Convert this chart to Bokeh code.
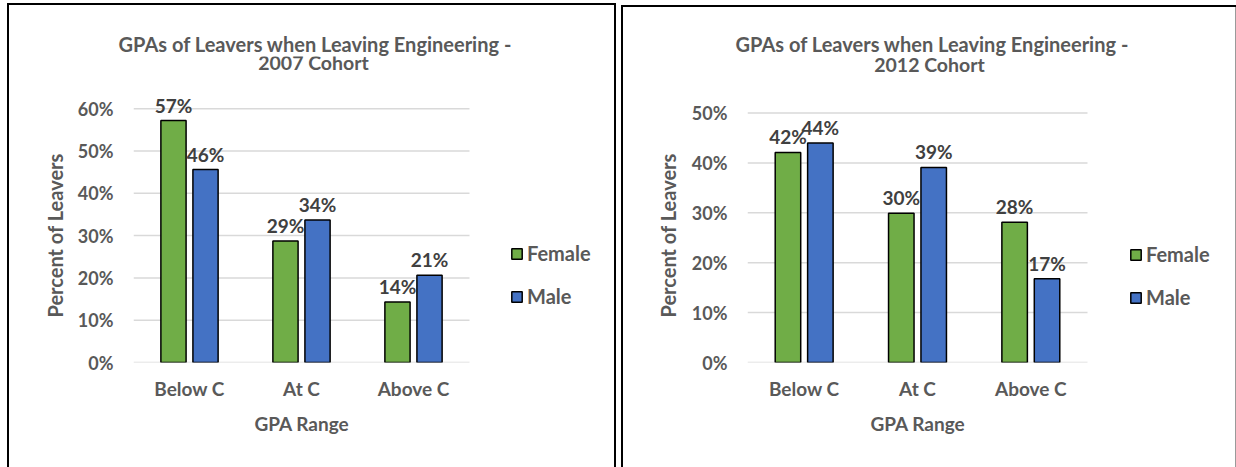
from bokeh.plotting import figure
from bokeh.models import (Range1d, FixedTicker, Legend, LegendItem, Label,
                          Title, ColumnDataSource, NumeralTickFormatter)
from bokeh.transform import dodge
from bokeh.layouts import row
from bokeh.embed import file_html
from bokeh.resources import INLINE
from bokeh.core.properties import value

categories = ["Below C", "At C", "Above C"]

female_2007 = [0.572, 0.287, 0.143]
male_2007 = [0.456, 0.337, 0.206]
ticks_2007 = [0.0, 0.1, 0.2, 0.3, 0.4, 0.5, 0.6]

female_2012 = [0.421, 0.299, 0.281]
male_2012 = [0.440, 0.391, 0.168]
ticks_2012 = [0.0, 0.1, 0.2, 0.3, 0.4, 0.5]

series_names = ["Female", "Male"]
x_title = "GPA Range"
y_title = "Percent of Leavers"
title_2007 = ["GPAs of Leavers when Leaving Engineering -", "2007 Cohort"]
title_2012 = ["GPAs of Leavers when Leaving Engineering -", "2012 Cohort"]

GREEN = "#70AD47"
BLUE = "#4472C4"
GREY = "#595959"
DARK = "#404040"
FONT = "Lato"


def pct(v):
    return f"{round(v * 100)}%"


def make_panel(title_lines, female, male, ticks, geo):
    W, H = 618, 467
    n = len(categories)
    cat_px = geo["fw"] / n                      # pixels per category
    frame_w = W - geo["left"] - geo["right"]
    frame_h = H - geo["top"] - geo["bottom"]
    x_end = frame_w / cat_px
    y_end = frame_h / geo["py"]
    p = figure(width=W, height=H, x_range=Range1d(0, x_end),
               y_range=Range1d(0, y_end), output_backend="svg", title=None,
               toolbar_location=None, min_border_left=geo["left"],
               min_border_right=geo["right"], min_border_top=geo["top"],
               min_border_bottom=geo["bottom"])
    p.outline_line_color = None
    p.background_fill_color = None
    p.border_fill_color = None
    p.styles = {"box-shadow": geo["shadow"]}

    xc = [i + 0.5 for i in range(n)]
    src = ColumnDataSource(dict(
        xc=xc, female=female, male=male,
        flab=[pct(v) for v in female], mlab=[pct(v) for v in male]))

    # horizontal gridlines limited to the category area
    gsrc = ColumnDataSource(dict(y=ticks, x0=[0] * len(ticks), x1=[n] * len(ticks)))
    p.segment(x0="x0", x1="x1", y0="y", y1="y", source=gsrc,
              line_color="#D9D9D9", line_width=1.5)

    off = 0.143
    bw = 0.225
    rf = p.vbar(x=dodge("xc", -off), top="female", width=bw,
                source=src, fill_color=GREEN, line_color="black", line_width=1.5)
    rm = p.vbar(x=dodge("xc", off), top="male", width=bw,
                source=src, fill_color=BLUE, line_color="black", line_width=1.5)

    for col, lab, dx in (("female", "flab", -off), ("male", "mlab", off)):
        p.text(x=dodge("xc", dx), y=col, text=lab, source=src,
               text_align="center", text_baseline="bottom", y_offset=-4,
               text_font=value(FONT), text_font_style="bold",
               text_font_size="19px", text_color=DARK)

    # axes
    p.yaxis.ticker = FixedTicker(ticks=ticks)
    p.yaxis.formatter = NumeralTickFormatter(format="0%")
    p.yaxis.bounds = (0, max(ticks))
    p.xaxis.ticker = FixedTicker(ticks=xc)
    p.xaxis.major_label_overrides = {x: c for x, c in zip(xc, categories)}
    p.xaxis.bounds = (0, n)
    for ax in (p.xaxis, p.yaxis):
        ax.axis_line_color = None
        ax.major_tick_line_color = None
        ax.minor_tick_line_color = None
        ax.major_tick_out = 0
        ax.major_tick_in = 0
        ax.major_label_text_font = FONT
        ax.major_label_text_font_style = "bold"
        ax.major_label_text_color = GREY
    p.yaxis.major_label_text_font_size = "18px"
    p.xaxis.major_label_text_font_size = "19px"
    p.yaxis.major_label_standoff = 20
    p.xaxis.major_label_standoff = 14

    p.xgrid.grid_line_color = None
    p.ygrid.grid_line_color = None

    # axis titles placed beside the axes, aligned to the category / tick area
    p.add_layout(Title(text=x_title, align="left", offset=geo["xo"], standoff=geo["xs"],
                       text_font=FONT, text_font_style="bold",
                       text_font_size="19px", text_color=GREY), "below")
    p.add_layout(Title(text=y_title, align="left", offset=geo["yo"], standoff=geo["ys"],
                       text_font=FONT, text_font_style="bold",
                       text_font_size="20px", text_color=GREY), "left")

    # chart title: first line above the frame, second line inside it
    p.add_layout(Title(text=title_lines[0], align="left", offset=geo["t1o"],
                       standoff=geo["t1s"], text_font=FONT, text_font_style="bold",
                       text_font_size="20px", text_color=GREY), "above")
    p.add_layout(Label(x=geo["tcx"] - geo["left"], y=geo["t2"], x_units="screen",
                       y_units="screen", text=title_lines[1], text_align="center",
                       text_baseline="middle", text_font=FONT,
                       text_font_style="bold", text_font_size="19.5px",
                       text_color=GREY))

    legend = Legend(items=[LegendItem(label=series_names[0], renderers=[rf]),
                           LegendItem(label=series_names[1], renderers=[rm])],
                    location=(geo["lx"], geo["ly"]))
    legend.background_fill_color = None
    legend.border_line_color = None
    legend.padding = 0
    legend.margin = 0
    legend.spacing = 19
    legend.glyph_width = 13
    legend.glyph_height = 13
    legend.label_standoff = 4
    legend.label_text_font = FONT
    legend.label_text_font_style = "bold"
    legend.label_text_font_size = "20px"
    legend.label_text_color = GREY
    p.add_layout(legend)
    return p


# frame geometry (canvas pixels): category area width, pixels per unit on y
geo1 = dict(left=133, right=8, top=56, bottom=105, fw=336, py=423.0,
            tcx=313, t1o=-15, t1s=1, t2=300, xo=121, xs=15, yo=45, ys=16,
            lx=377, ly=54,
            shadow=("inset 7px 0 0 white, inset 0 3px 0 white, inset -2px 0 0 white, "
                    "inset 9px 0 0 black, inset 0 5px 0 black, inset -4px 0 0 black"))
geo2 = dict(left=129, right=8, top=56, bottom=104, fw=340, py=500.6,
            tcx=311, t1o=-12, t1s=1, t2=298, xo=123, xs=15, yo=45, ys=18,
            lx=382, ly=53,
            shadow=("inset 3px 0 0 white, inset 0 5px 0 white, "
                    "inset 5px 0 0 black, inset 0 7px 0 black, inset -1px 0 0 #9a9a9a"))

p1 = make_panel(title_2007, female_2007, male_2007, ticks_2007, geo1)
p2 = make_panel(title_2012, female_2012, male_2012, ticks_2012, geo2)

layout = row(p1, p2)
open("out.html", "w").write(file_html(layout, INLINE))
